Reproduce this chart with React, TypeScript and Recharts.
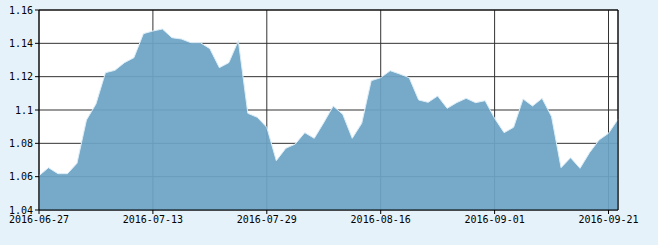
import React from 'react';
import { AreaChart, Area, XAxis, YAxis, CartesianGrid, ReferenceLine } from 'recharts';

const dates = [
  '2016-06-27', '2016-06-28', '2016-06-29', '2016-06-30', '2016-07-01', '2016-07-04', '2016-07-05', '2016-07-06',
  '2016-07-07', '2016-07-08', '2016-07-11', '2016-07-12', '2016-07-13', '2016-07-14', '2016-07-15', '2016-07-18',
  '2016-07-19', '2016-07-20', '2016-07-21', '2016-07-22', '2016-07-25', '2016-07-26', '2016-07-27', '2016-07-28',
  '2016-07-29', '2016-08-01', '2016-08-02', '2016-08-03', '2016-08-04', '2016-08-05', '2016-08-08', '2016-08-09',
  '2016-08-10', '2016-08-11', '2016-08-12', '2016-08-15', '2016-08-16', '2016-08-17', '2016-08-18', '2016-08-19',
  '2016-08-22', '2016-08-23', '2016-08-24', '2016-08-25', '2016-08-26', '2016-08-29', '2016-08-30', '2016-08-31',
  '2016-09-01', '2016-09-02', '2016-09-05', '2016-09-06', '2016-09-07', '2016-09-08', '2016-09-09', '2016-09-12',
  '2016-09-13', '2016-09-14', '2016-09-19', '2016-09-20', '2016-09-21', '2016-09-22',
];

const values = [
  1.0606, 1.0654, 1.0618, 1.0618, 1.068, 1.094, 1.1036, 1.1224,
  1.1238, 1.1284, 1.1314, 1.1458, 1.1474, 1.1486, 1.1434, 1.1426,
  1.1404, 1.1404, 1.1368, 1.1254, 1.1284, 1.1416, 1.098, 1.0956,
  1.0896, 1.0696, 1.077, 1.0796, 1.0864, 1.083, 1.0924, 1.1024,
  1.0974, 1.083, 1.092, 1.1176, 1.1194, 1.1236, 1.1216, 1.1194,
  1.106, 1.1046, 1.1084, 1.101, 1.1044, 1.107, 1.1044, 1.1056,
  1.095, 1.0864, 1.0896, 1.1066, 1.1024, 1.107, 1.096, 1.0654,
  1.0714, 1.065, 1.0744, 1.082, 1.086, 1.0944,
];

const xTicks = ['2016-06-27', '2016-07-13', '2016-07-29', '2016-08-16', '2016-09-01', '2016-09-21'];
const yTicks = [1.04, 1.06, 1.08, 1.1, 1.12, 1.14, 1.16];

const data = dates.map((d, i) => ({ date: d, nav: values[i] }));

const tickFont = { fontFamily: '"DejaVu Sans Mono", monospace', fontSize: 10, fill: '#000' };

export default function App() {
  return (
    <div style={{ position: 'fixed', left: 0, top: 0, width: 658, height: 245, background: '#e6f2fa' }}>
      <AreaChart width={658} height={245} data={data} margin={{ top: 10, right: 40, left: 0, bottom: 0 }}>
        <CartesianGrid stroke="#333" strokeWidth={1} fill="#fff" />
        <XAxis
          dataKey="date"
          ticks={xTicks}
          interval={0}
          height={35}
          tickSize={4}
          tickMargin={2}
          axisLine={{ stroke: '#000' }}
          tickLine={{ stroke: '#000' }}
          tick={tickFont}
        />
        <YAxis
          domain={[1.04, 1.16]}
          ticks={yTicks}
          width={39}
          tickSize={4}
          tickMargin={2}
          axisLine={{ stroke: '#000' }}
          tickLine={{ stroke: '#000' }}
          tick={tickFont}
          tickFormatter={(v: number) => String(Number(v.toFixed(2)))}
        />
        <Area
          type="linear"
          dataKey="nav"
          stroke="#dcedf8"
          strokeWidth={1}
          fill="#6da4c4"
          fillOpacity={0.93}
          isAnimationActive={false}
          dot={false}
          activeDot={false}
        />
        <ReferenceLine y={1.16} stroke="#000" />
        <ReferenceLine x={dates[dates.length - 1]} stroke="#000" />
      </AreaChart>
    </div>
  );
}
